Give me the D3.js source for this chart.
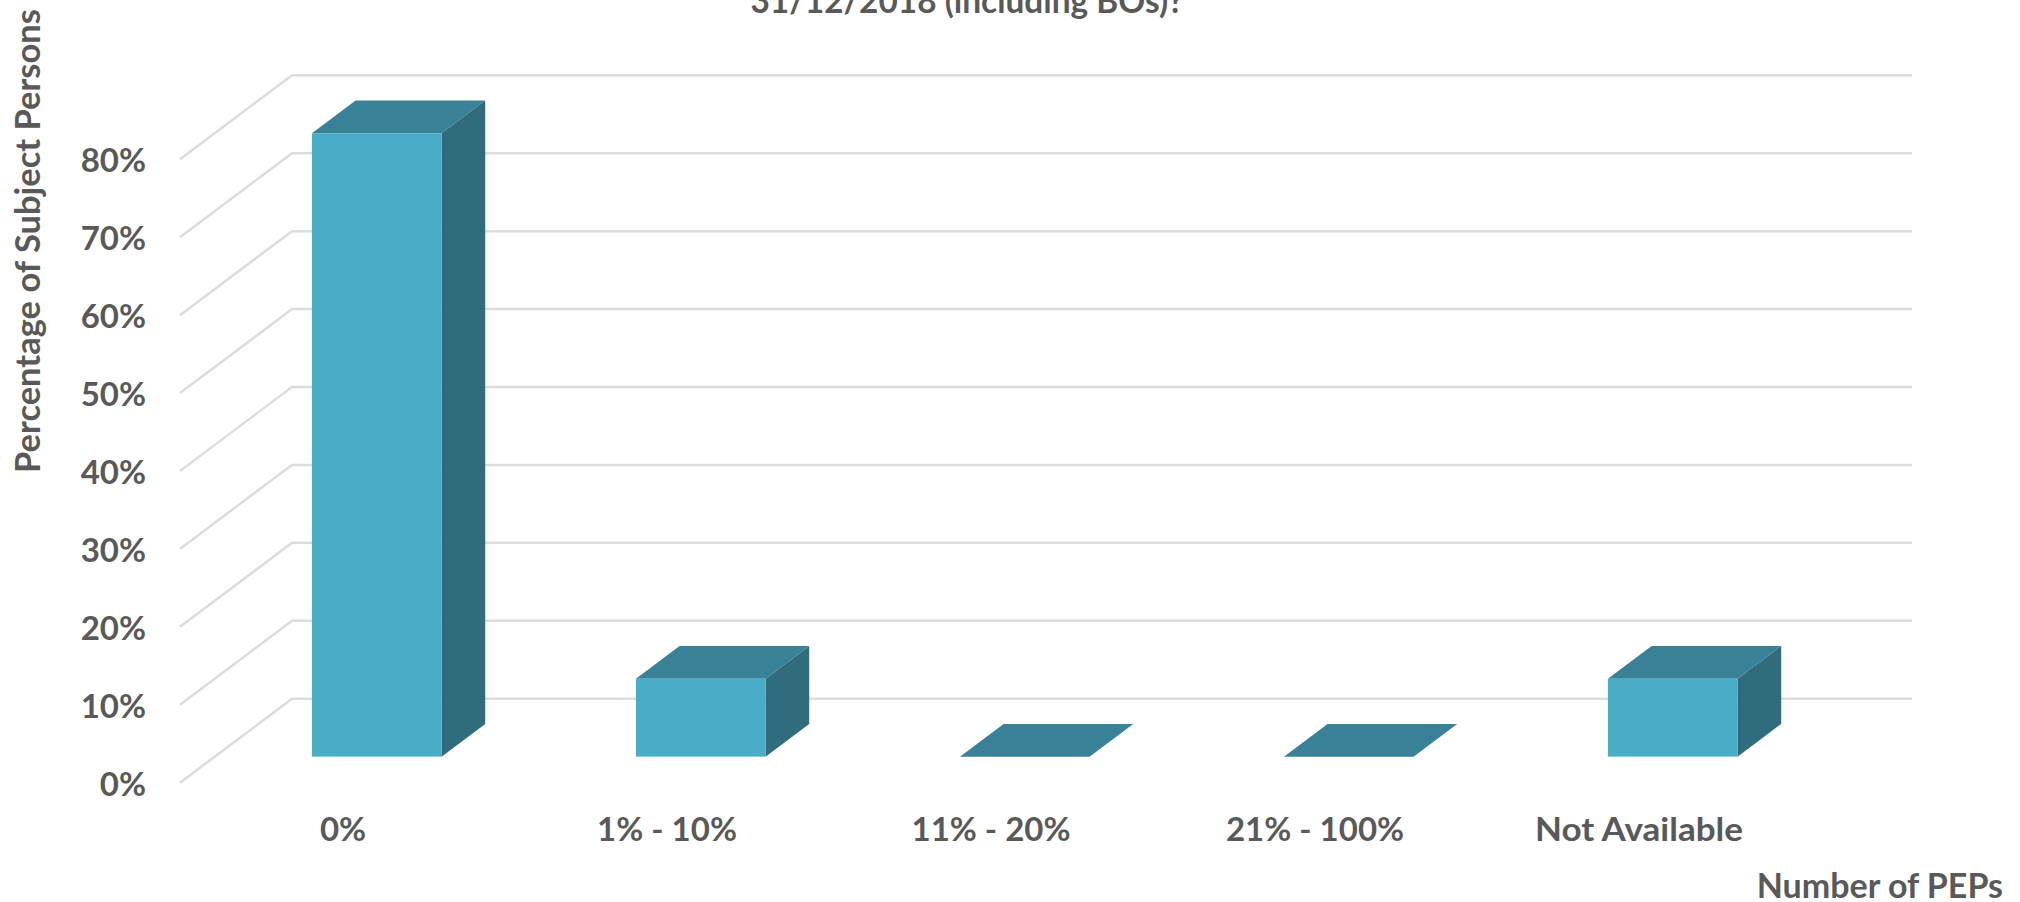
<!DOCTYPE html>
<html><head><meta charset="utf-8">
<script src="https://cdnjs.cloudflare.com/ajax/libs/d3/7.8.5/d3.min.js"></script>
<style>
html,body{margin:0;padding:0;background:#fff;overflow:hidden}
text{font-family:Lato,"Open Sans",sans-serif;font-weight:700;fill:#595959}
</style></head><body><svg id="c" width="2020" height="902"></svg>
<script>
const categories = ["0%","1% - 10%","11% - 20%","21% - 100%","Not Available"];
const shares = [80,10,0,0,10];
const tickValues = [0,10,20,30,40,50,60,70,80];
const titleText = "31/12/2018 (including BOs)?";
const yTitle = "Percentage of Subject Persons";
const xTitle = "Number of PEPs";

const svg = d3.select("#c");
const depthX = 112, depthY = 84, frontDepth = 0.31, backDepth = 0.70;
const y = d3.scaleLinear().domain([0,80]).range([782.7,159.3]);
const x = d3.scaleBand().domain(categories).range([180,1800]).paddingInner(0.6).paddingOuter(0.3);

// walls: gridlines running along the floor side and the back wall
const grid = svg.append("g").attr("fill","none").attr("stroke","#dcdcdc").attr("stroke-width",2.5);
grid.selectAll("path").data(tickValues).join("path")
  .attr("d", v => d3.line()([[x.range()[0],y(v)],[x.range()[0]+depthX,y(v)-depthY],[x.range()[1]+depthX,y(v)-depthY]]));

// bars as three-sided prisms
const bars = svg.append("g").selectAll("g").data(categories.map((c,i)=>({c,v:shares[i]}))).join("g");
const fx = d => x(d.c)+frontDepth*depthX;
const by = k => y(0)-k*depthY;
const off = k => k*depthY;
const w = x.bandwidth(), dx=(backDepth-frontDepth)*depthX, dy=(backDepth-frontDepth)*depthY;
bars.filter(d=>d.v>0).append("path").attr("fill","#316c7d")
  .attr("d",d=>{const l=fx(d)+w,t=y(d.v)-off(frontDepth),b=by(frontDepth);
    return d3.line()([[l,t],[l+dx,t-dy],[l+dx,b-dy],[l,b]])+"Z";});
bars.append("path").attr("fill","#388197")
  .attr("d",d=>{const l=fx(d),t=y(d.v)-off(frontDepth);
    return d3.line()([[l,t],[l+dx,t-dy],[l+w+dx,t-dy],[l+w,t]])+"Z";});
bars.filter(d=>d.v>0).append("rect").attr("fill","#4aacc7")
  .attr("x",fx).attr("width",w)
  .attr("y",d=>y(d.v)-off(frontDepth))
  .attr("height",d=>y(0)-y(d.v));

// axes
const yAxis = svg.append("g").attr("transform","translate(146,1)")
  .call(d3.axisLeft(y).tickValues(tickValues).tickSize(0).tickPadding(0).tickFormat(v=>v+"%"));
yAxis.select(".domain").remove();
yAxis.selectAll("text").style("font-size","33px").attr("dy","0.35em");
const xAxis = svg.append("g").attr("transform","translate(1,829)")
  .call(d3.axisBottom(x).tickSize(0).tickPadding(0));
xAxis.select(".domain").remove();
xAxis.selectAll("text").style("font-size","33px").attr("y",0).attr("dy","0.35em");
xAxis.selectAll("text").filter(d=>d===categories[4]).attr("textLength",208).attr("lengthAdjust","spacingAndGlyphs");

// titles
svg.append("text").attr("x",967).attr("y",13).attr("text-anchor","middle").style("font-size","33.4px").text(titleText);
svg.append("text").attr("transform","translate(40,241) rotate(-90)").attr("text-anchor","middle").style("font-size","34.5px").text(yTitle);
svg.append("text").attr("x",2003).attr("y",898).attr("text-anchor","end").style("font-size","34px").text(xTitle);
</script></body></html>
